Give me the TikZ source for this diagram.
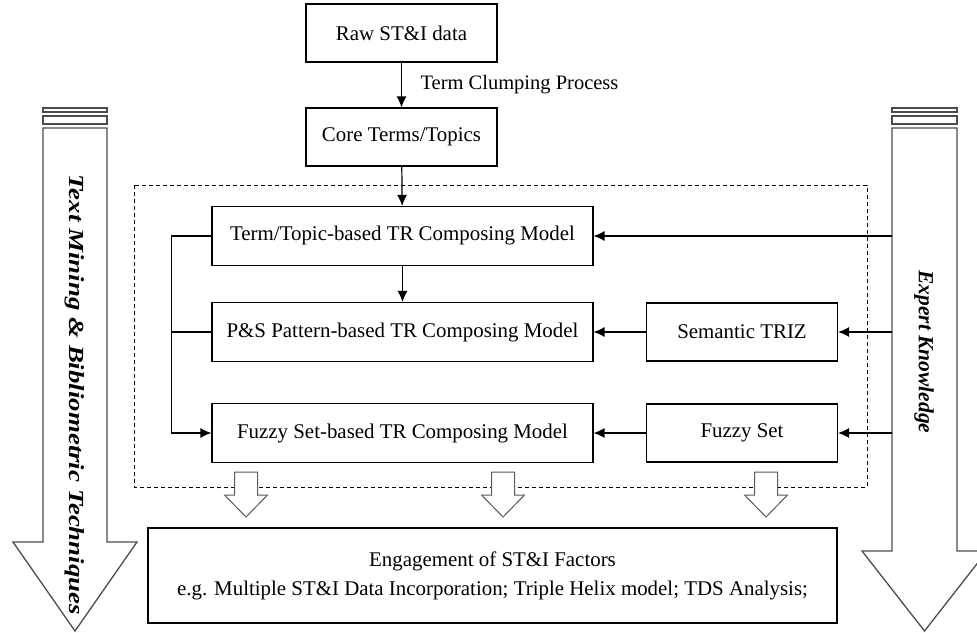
\documentclass[tikz,border=0pt]{standalone}
\usepackage{fontspec}
\setmainfont{Liberation Serif}
\usetikzlibrary{arrows.meta}
\tikzstyle{box}=[draw=black,line width=1.1pt,fill=white,inner sep=0pt,font=\fontsize{20.9}{29}\selectfont]
\tikzstyle{small}=[box,minimum width=191pt,minimum height=58pt]
\tikzstyle{model}=[box,minimum width=381pt,minimum height=59pt]
\tikzstyle{feed}=[line width=1.2pt,-{Latex[length=11pt,width=10pt]}]
\tikzstyle{hollow}=[draw=black!65,line width=1pt,fill=white]
\tikzstyle{bigarrow}=[draw=black!70,line width=1.3pt,fill=white]
\tikzstyle{side}=[rotate=-90,font=\bfseries\itshape\fontsize{21.5}{24}\selectfont]

\begin{document}
\begin{tikzpicture}[x=1pt,y=-1pt]
		\useasboundingbox (0,0) rectangle (977,632);
		\node (raw) at (401.5,33) [small] {Raw ST\&I data};
		\node (core) at (401.5,137) [small] {Core Terms/Topics};
		\node (m1) at (402.5,236) [model] {Term/Topic-based TR Composing Model};
		\node (m2) at (402.5,332) [model] {P\&S Pattern-based TR Composing Model};
		\node (m3) at (402.5,433) [model] {Fuzzy Set-based TR Composing Model};
		\node (s2) at (742,332) [small] {Semantic TRIZ};
		\node (s3) at (742,433) [small] {Fuzzy Set};
		\node (out) at (492.5,575.5) [box,minimum width=689pt,minimum height=95pt,align=center]
			{\raisebox{-3pt}{Engagement of ST\&I Factors}\\\raisebox{-3pt}{e.g. Multiple ST\&I Data Incorporation; Triple Helix model; TDS Analysis;}};
		\node (tc) at (417,85) [anchor=west,font=\fontsize{20.5}{24}\selectfont] {Term Clumping Process};
		
		% dashed frame round the models
		\draw [dashed,line width=0.8pt,dash pattern=on 4pt off 3pt] (134,185) rectangle (867,487);
		
		% big side arrows
		\draw [bigarrow] (43,128)--(107,128)--(107,542)--(137,542)--(75,631)--(13,542)--(43,542)--cycle;
		\draw [bigarrow] (43,108) rectangle (107,112);
		\draw [bigarrow] (43,116) rectangle (107,124);
		\draw [bigarrow] (892,128)--(957,128)--(957,551)--(987,551)--(924.5,631)--(862,551)--(892,551)--cycle;
		\draw [bigarrow] (892,108) rectangle (957,112);
		\draw [bigarrow] (892,116) rectangle (957,124);
		\node (tm) at (75,395) [side] {\scalebox{1.25}[1]{Text Mining \& Bibliometric Techniques}};
		\node (ek) at (924,352) [side] {Expert Knowledge};
		\coordinate (e1) at (892,236);
		\coordinate (e2) at (892,332);
		\coordinate (e3) at (892,433);
		
		% small hollow arrows
		\foreach \x in {246,503,766}
			\draw [hollow] (\x-11.5,472)--(\x+11.5,472)--(\x+11.5,495)--(\x+21.5,495)--(\x,517)--(\x-21.5,495)--(\x-11.5,495)--cycle;
		
		\draw [feed] (raw)-- (core);
		\draw [feed] (core)-- (m1);
		\draw [feed] (m1)-- (m2);
		\draw [feed] (m1.west)-- ++(-40,0) |- (m3.west);
		\draw [line width=1.2pt] (m2.west)-- ++(-40,0);
		\draw [feed] (e1)-- (m1.east);
		\draw [feed] (e2)-- (s2.east);
		\draw [feed] (e3)-- (s3.east);
		\draw [feed] (s2)-- (m2);
		\draw [feed] (s3)-- (m3);
	\end{tikzpicture}
\end{document}
